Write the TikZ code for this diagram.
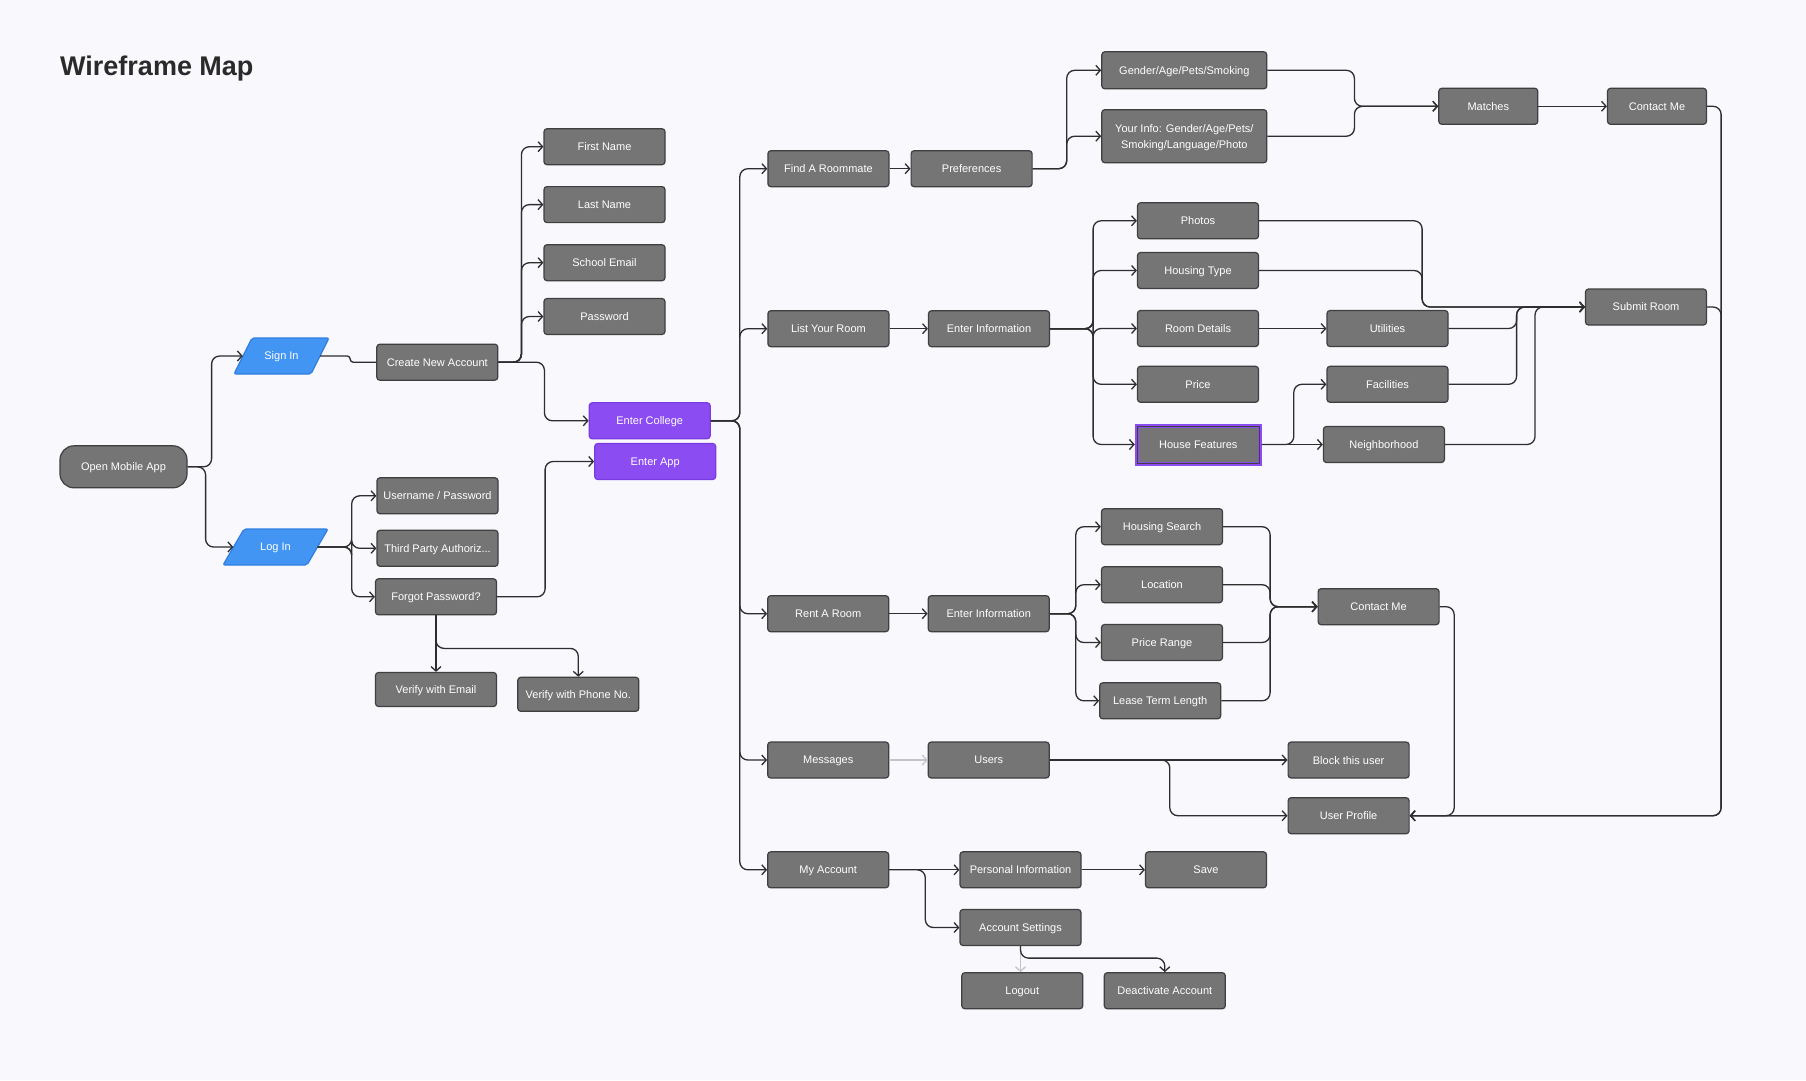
\documentclass[tikz,border=0pt]{standalone}
\usepackage{fontspec}
\setmainfont{Liberation Sans}
\usetikzlibrary{arrows.meta,calc}
\definecolor{bgc}{HTML}{F8F8FD}
\definecolor{boxfill}{HTML}{757575}
\definecolor{boxline}{HTML}{3F3F3F}
\definecolor{linec}{HTML}{2E2E2E}
\definecolor{purp}{HTML}{8B4CF2}
\definecolor{purpd}{HTML}{7A3BE0}
\definecolor{bluef}{HTML}{4295F2}
\definecolor{blued}{HTML}{2F7EE0}
\definecolor{lightln}{HTML}{C4C4C8}
\definecolor{titlec}{HTML}{2A2A2A}
\newcommand{\boxfont}{\fontsize{11}{13.5}\selectfont}
\begin{document}
\begin{tikzpicture}[x=1pt,y=-1pt,
  wbox/.style={draw=boxline, fill=boxfill, line width=1.2pt, rounded corners=3pt,
    minimum width=121pt, minimum height=36pt, text=white, font=\boxfont,
    inner sep=0pt, align=center, text depth=0pt},
  pbox/.style={wbox, fill=purp, draw=purpd},
  ptxt/.style={minimum height=36pt, text=white, font=\boxfont, inner sep=0pt, text depth=0pt},
  conn/.style={draw=linec, line width=1.3pt, rounded corners=8pt,
    -{Straight Barb[length=4.5pt,width=10pt,line width=1.3pt]}},
  plainc/.style={draw=linec, line width=1.3pt, rounded corners=8pt},
  greyc/.style={draw=lightln, line width=1.3pt,
    -{Straight Barb[length=4.5pt,width=10pt,line width=1.3pt]}}
]
\fill[bgc] (0,0) rectangle (1806,1080);
\useasboundingbox (0,0) rectangle (1806,1080);

\node[anchor=base west, inner sep=0pt, font=\fontsize{27}{30}\selectfont\bfseries, text=titlec] (title) at (60,75) {Wireframe Map};

% left part
\node[wbox, rounded corners=14pt, minimum width=127pt, minimum height=42pt] (oma) at (123.5,466.8) {Open Mobile App};

\filldraw[fill=bluef, draw=blued, line width=1.2pt, rounded corners=2pt]
  (234,374) -- (252,338) -- (329,338) -- (311,374) -- cycle;
\node[ptxt, minimum width=95pt] (signin) at (281.5,356) {Sign In};
\filldraw[fill=bluef, draw=blued, line width=1.2pt, rounded corners=2pt]
  (223,565) -- (244,529) -- (328,529) -- (307,565) -- cycle;
\node[ptxt, minimum width=105pt] (login) at (275.5,547) {Log In};
\coordinate (signinL) at ([xshift=9pt]signin.west);
\coordinate (signinR) at ([xshift=-9pt]signin.east);
\coordinate (loginL) at ([xshift=10.5pt]login.west);
\coordinate (loginR) at ([xshift=-10.5pt]login.east);

\node[wbox] (cna) at (437.3,362.2) {Create New Account};
\node[wbox] (fn) at (604.5,146.7) {First Name};
\node[wbox] (ln) at (604.5,204.6) {Last Name};
\node[wbox] (se) at (604.5,262.7) {School Email};
\node[wbox] (pw) at (604.5,316.5) {Password};
\node[pbox] (ec) at (649.7,420.8) {Enter College};
\node[pbox] (ea) at (655.2,461.5) {Enter App};
\node[wbox] (up) at (437.5,495.8) {Username / Password};
\node[wbox] (tp) at (437.5,548.3) {Third Party Authoriz...};
\node[wbox] (fp) at (436,596.8) {Forgot Password?};
\node[wbox, minimum height=34pt] (ve) at (436,689.5) {Verify with Email};
\node[wbox, minimum height=34pt] (vp) at (578.3,694.3) {Verify with Phone No.};

% find a roommate
\node[wbox] (far) at (828.4,168.7) {Find A Roommate};
\node[wbox] (pref) at (971.6,168.7) {Preferences};
\node[wbox, minimum width=165pt, minimum height=37pt] (gen) at (1184.3,70.3) {Gender/Age/Pets/Smoking};
\node[wbox, minimum width=165pt, minimum height=53pt, font=\fontsize{11}{16}\selectfont] (yi) at (1184.3,136.2) {Your Info: Gender/Age/Pets/\\Smoking/Language/Photo};
\node[wbox, minimum width=99pt] (mat) at (1488.3,106.3) {Matches};
\node[wbox, minimum width=99pt] (cma) at (1657,106.3) {Contact Me};

% list your room
\node[wbox] (lyr) at (828.4,328.7) {List Your Room};
\node[wbox] (eia) at (989,328.7) {Enter Information};
\node[wbox] (photos) at (1198,220.8) {Photos};
\node[wbox] (ht) at (1198,270.5) {Housing Type};
\node[wbox] (rd) at (1198,328.5) {Room Details};
\node[wbox] (price) at (1198,384.3) {Price};
\node[wbox, draw=purp, line width=4pt, rounded corners=0pt, minimum width=123pt, minimum height=38pt] (hf) at (1198.3,444.5) {House Features};
\draw[boxline, line width=0.8pt] ($(hf.south west)+(2.4,-2.4)$) rectangle ($(hf.north east)+(-2.4,2.4)$);
\node[wbox] (util) at (1387.5,328.5) {Utilities};
\node[wbox] (fac) at (1387.5,384.3) {Facilities};
\node[wbox] (neigh) at (1383.9,444.5) {Neighborhood};
\node[wbox] (sub) at (1646,307) {Submit Room};

% rent a room
\node[wbox] (rar) at (828.2,613.7) {Rent A Room};
\node[wbox] (eib) at (988.7,613.7) {Enter Information};
\node[wbox] (hs) at (1162,526.7) {Housing Search};
\node[wbox] (loc) at (1162,584.7) {Location};
\node[wbox] (pr) at (1162,642.5) {Price Range};
\node[wbox] (ltl) at (1160.2,700.8) {Lease Term Length};
\node[wbox] (cmb) at (1378.6,606.7) {Contact Me};

% messages
\node[wbox] (msg) at (828.2,760) {Messages};
\node[wbox] (users) at (988.7,760) {Users};
\node[wbox] (block) at (1348.6,760) {Block this user};
\node[wbox] (uprof) at (1348.6,815.7) {User Profile};

% my account
\node[wbox] (ma) at (828.2,869.8) {My Account};
\node[wbox] (pi) at (1020.5,869.8) {Personal Information};
\node[wbox] (save) at (1206,869.8) {Save};
\node[wbox] (as) at (1020.5,927.5) {Account Settings};
\node[wbox] (logout) at (1022.3,990.7) {Logout};
\node[wbox] (deact) at (1164.8,990.7) {Deactivate Account};

% ---------------- connectors ----------------
\draw[conn] (oma.east) -- ([xshift=24pt]oma.east) |- (signinL);
\draw[conn] (oma.east) -- ([xshift=18pt]oma.east) |- (loginL);
\draw[plainc, rounded corners=3pt] (signinR) -- ([xshift=30pt]signinR) |- (cna.west);

\foreach \t in {fn,ln,se,pw}
  \draw[conn] (cna.east) -- ([xshift=23pt]cna.east) |- (\t.west);
\draw[conn] (cna.east) -- ([xshift=46pt]cna.east) |- (ec.west);

\foreach \t in {up,tp,fp}
  \draw[conn] (loginR) -- ([xshift=34pt]loginR) |- (\t.west);
\draw[conn] (fp.east) -- ([xshift=48pt]fp.east) |- (ea.west);
\draw[conn] (fp.south) -- (ve.north);
\draw[conn] (fp.south) -- ([yshift=-33pt]fp.south) -| (vp.north);

\foreach \t in {far,lyr,rar,msg,ma}
  \draw[conn] (ec.east) -- ([xshift=29pt]ec.east) |- (\t.west);

\draw[conn] (far) -- (pref);
\draw[conn] (pref.east) -- ([xshift=34pt]pref.east) |- (gen.west);
\draw[conn] (pref.east) -- ([xshift=34pt]pref.east) |- (yi.west);
\draw[conn] (gen.east) -- ([xshift=87pt]gen.east) |- (mat.west);
\draw[conn] (yi.east) -- ([xshift=87pt]yi.east) |- (mat.west);
\draw[conn] (mat) -- (cma);
\draw[conn] (cma.east) -- ([xshift=14pt]cma.east) |- (uprof.east);
\draw[conn] (sub.east) -- ([xshift=14pt]sub.east) |- (uprof.east);

\draw[conn] (lyr) -- (eia);
\foreach \t in {photos,ht,rd,price,hf}
  \draw[conn] (eia.east) -- ([xshift=43pt]eia.east) |- (\t.west);
\draw[conn] (rd) -- (util);
\draw[conn] (hf.east) -- ([xshift=32pt]hf.east) |- (fac.west);
\draw[conn] (hf.east) -- (neigh.west);
\draw[conn] (photos.east) -- ([xshift=163pt]photos.east) |- (sub.west);
\draw[conn] (ht.east) -- ([xshift=163pt]ht.east) |- (sub.west);
\draw[conn] (util.east) -- ([xshift=68pt]util.east) |- (sub.west);
\draw[conn] (fac.east) -- ([xshift=68pt]fac.east) |- (sub.west);
\draw[conn] (neigh.east) -- ([xshift=90pt]neigh.east) |- (sub.west);

\draw[conn] (rar) -- (eib);
\foreach \t in {hs,loc,pr,ltl}
  \draw[conn] (eib.east) -- ([xshift=26pt]eib.east) |- (\t.west);
\foreach \t in {hs,loc,pr}
  \draw[conn] (\t.east) -- ([xshift=47pt]\t.east) |- (cmb.west);
\draw[conn] (ltl.east) -- ([xshift=48.8pt]ltl.east) |- (cmb.west);
\draw[conn] (cmb.east) -- ([xshift=14.5pt]cmb.east) |- (uprof.east);

\draw[greyc] (msg) -- (users);
\draw[conn] (users) -- (block);
\draw[conn] (users.east) -- ([xshift=120pt]users.east) |- (uprof.west);

\draw[conn] (ma) -- (pi);
\draw[conn] (ma.east) -- ([xshift=36pt]ma.east) |- (as.west);
\draw[conn] (pi) -- (save);
\draw[greyc] (as.south) -- (as.south |- logout.north);
\draw[conn] (as.south) -- ([yshift=-12pt]as.south) -| (deact.north);
\end{tikzpicture}
\end{document}
